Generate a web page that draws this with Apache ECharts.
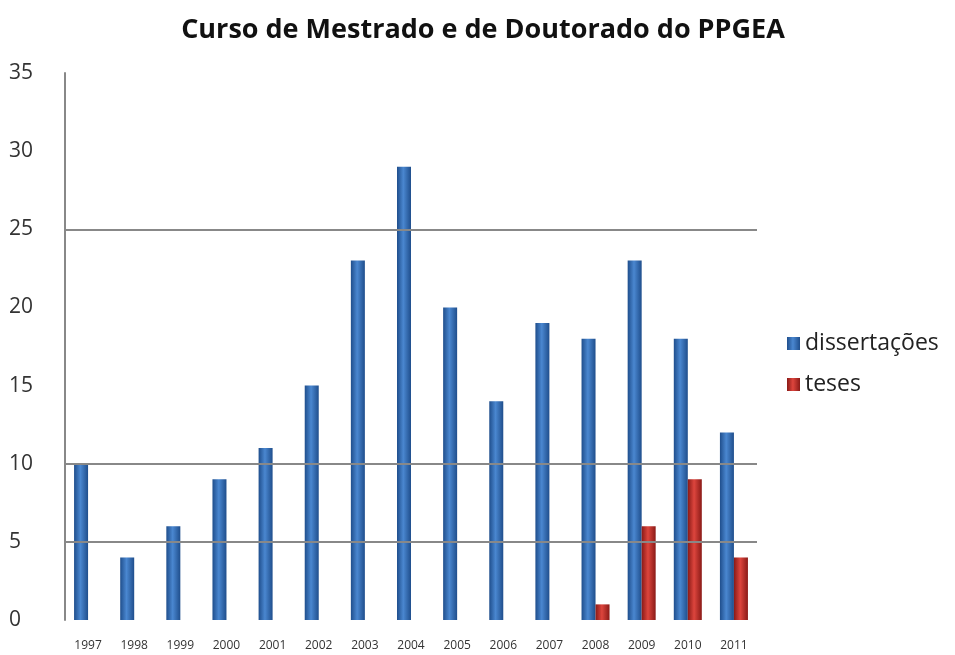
<!DOCTYPE html>
<html>
<head>
<meta charset="utf-8">
<script src="https://cdn.jsdelivr.net/npm/echarts@6/dist/echarts.min.js"></script>
<style>
  html, body { margin: 0; padding: 0; background: #fff; }
  #chart { width: 955px; height: 655px; }
</style>
</head>
<body>
<div id="chart"></div>
<script>
  // dados
  var anos = ['1997', '1998', '1999', '2000', '2001', '2002', '2003', '2004', '2005', '2006', '2007', '2008', '2009', '2010', '2011'];
  var dissertacoes = [10, 4, 6, 9, 11, 15, 23, 29, 20, 14, 19, 18, 23, 18, 12];
  var teses = [null, null, null, null, null, null, null, null, null, null, null, 1, 6, 9, 4];
  // linhas de grade visíveis na imagem
  var linhasGrade = [5, 10, 25];

  var fonte = '"Open Sans", "DejaVu Sans", sans-serif';

  function cilindro(borda, meio) {
    return new echarts.graphic.LinearGradient(0, 0, 1, 0, [
      { offset: 0, color: borda },
      { offset: 0.45, color: meio },
      { offset: 1, color: borda }
    ]);
  }

  var myChart = echarts.init(document.getElementById('chart'));
  myChart.setOption({
    animation: false,
    backgroundColor: '#fff',
    title: {
      text: 'Curso de Mestrado e de Doutorado do PPGEA',
      left: 478,
      textAlign: 'center',
      top: 12,
      textStyle: { fontFamily: fonte, fontSize: 27, fontWeight: 'bold', color: '#111' }
    },
    legend: {
      orient: 'vertical',
      left: 782,
      top: 327,
      itemWidth: 13,
      itemHeight: 13,
      itemGap: 18,
      icon: 'rect',
      textStyle: { fontFamily: fonte, fontSize: 23, color: '#222' },
      data: ['dissertações', 'teses']
    },
    grid: { left: 65, right: 198, top: 73, bottom: 35, containLabel: false },
    xAxis: {
      type: 'category',
      data: anos,
      axisLine: { show: false },
      axisTick: { show: false },
      axisLabel: { fontFamily: fonte, fontSize: 12, color: '#333', margin: 20, interval: 0 }
    },
    yAxis: {
      type: 'value',
      min: 0,
      max: 35,
      interval: 5,
      axisLine: { show: true, lineStyle: { color: '#888', width: 2 } },
      axisTick: { show: false },
      splitLine: { show: false },
      axisLabel: { fontFamily: fonte, fontSize: 21, color: '#333', align: 'left', margin: 56 }
    },
    series: [
      {
        name: 'dissertações',
        type: 'bar',
        data: dissertacoes,
        barWidth: 14,
        barGap: '0%',
        itemStyle: { color: cilindro('#1f4e8c', '#4a87d0') },
        markLine: {
          silent: true,
          symbol: 'none',
          label: { show: false },
          lineStyle: { color: '#888', width: 2, type: 'solid' },
          data: linhasGrade.map(function (v) { return { yAxis: v }; })
        },
        z: 3
      },
      {
        name: 'teses',
        type: 'bar',
        data: teses,
        barWidth: 14,
        itemStyle: { color: cilindro('#8a1a17', '#dd453d') },
        z: 3
      }
    ]
  });
</script>
</body>
</html>
